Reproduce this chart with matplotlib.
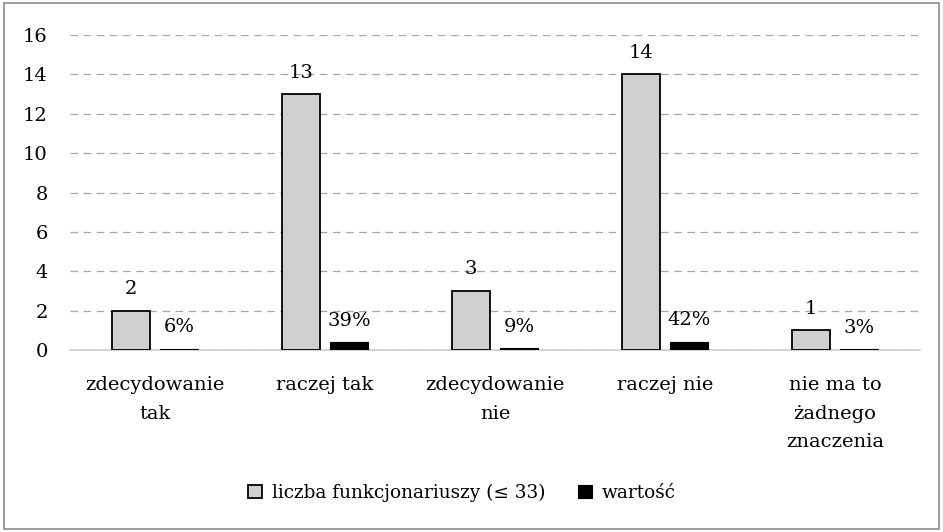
import numpy as np
import matplotlib.pyplot as plt
from matplotlib.patches import Rectangle

plt.rcParams['font.family'] = ['DejaVu Serif']

categories = ['zdecydowanie\ntak', 'raczej tak', 'zdecydowanie\nnie', 'raczej nie',
              'nie ma to\nżadnego\nznaczenia']
counts = [2, 13, 3, 14, 1]
shares = [0.06, 0.39, 0.09, 0.42, 0.03]
share_labels = ['6%', '39%', '9%', '42%', '3%']
yticks = [0, 2, 4, 6, 8, 10, 12, 14, 16]

fs = 14
fig = plt.figure(figsize=(9.43, 5.32), dpi=100)
ax = fig.add_axes([70/943, 1-350/532, 850/943, 315/532])

x = np.arange(len(categories))
w = 0.225
off = 0.143
b1 = ax.bar(x-off, counts, w, color='#d0d0d0', edgecolor='black', linewidth=1.3,
            label='liczba funkcjonariuszy (≤ 33)', zorder=3)
b2 = ax.bar(x+off, shares, w, color='black', edgecolor='black', linewidth=0.8,
            label='wartość', zorder=3)
ax.bar_label(b1, labels=[str(c) for c in counts], padding=9, fontsize=fs)
ax.bar_label(b2, labels=share_labels, padding=9, fontsize=fs)

ax.set_xlim(-0.5, len(categories)-0.5)
ax.set_ylim(0, 16)
ax.set_yticks(yticks)
ax.set_xticks(x)
ax.set_xticklabels(categories, fontsize=fs, linespacing=1.75)
ax.tick_params(axis='both', length=0, labelsize=fs)
ax.tick_params(axis='x', pad=19)
ax.tick_params(axis='y', pad=16)
ax.yaxis.grid(True, color='#a6a6a6', linestyle=(0, (6, 4.5)), linewidth=0.9, zorder=0)
ax.set_axisbelow(True)
for s in ['top', 'right', 'left']:
    ax.spines[s].set_visible(False)
ax.spines['bottom'].set_color('#d0d0d0')
ax.spines['bottom'].set_linewidth(1.3)

fig.legend(loc='center', bbox_to_anchor=(462/943, 1-493/532), ncol=2, frameon=False,
           fontsize=13.3, handlelength=0.75, handleheight=0.75, columnspacing=1.75,
           handletextpad=0.55)

fig.patches.append(Rectangle((0.004, 0.006), 0.992, 0.988, transform=fig.transFigure,
                             fill=False, edgecolor='#8c8c8c', linewidth=1.2))

fig.savefig('out.png', dpi=100)
